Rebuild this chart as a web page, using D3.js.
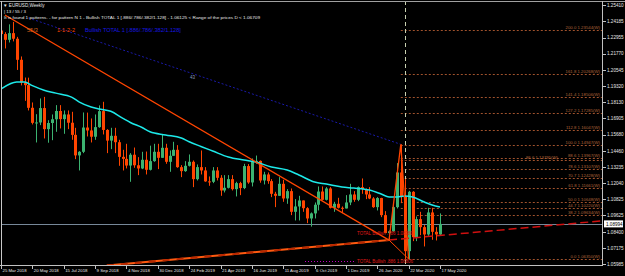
<!DOCTYPE html>
<html>
<head>
<meta charset="utf-8">
<script src="https://cdn.jsdelivr.net/npm/d3@7"></script>
<style>
html, body { margin: 0; padding: 0; background: #000; }
svg { display: block; font-family: "Liberation Sans", Arial, sans-serif; }
</style>
</head>
<body>
<div class="chart"></div>
<script>
// DATA ------
const weeks = ["2018-03-25","2018-04-01","2018-04-08","2018-04-15","2018-04-22","2018-04-29","2018-05-06","2018-05-13","2018-05-20","2018-05-27",
  "2018-06-03","2018-06-10","2018-06-17","2018-06-24","2018-07-01","2018-07-08","2018-07-15","2018-07-22","2018-07-29","2018-08-05",
  "2018-08-12","2018-08-19","2018-08-26","2018-09-02","2018-09-09","2018-09-16","2018-09-23","2018-09-30","2018-10-07","2018-10-14",
  "2018-10-21","2018-10-28","2018-11-04","2018-11-11","2018-11-18","2018-11-25","2018-12-02","2018-12-09","2018-12-16","2018-12-23",
  "2018-12-30","2019-01-06","2019-01-13","2019-01-20","2019-01-27","2019-02-03","2019-02-10","2019-02-17","2019-02-24","2019-03-03",
  "2019-03-10","2019-03-17","2019-03-24","2019-03-31","2019-04-07","2019-04-14","2019-04-21","2019-04-28","2019-05-05","2019-05-12",
  "2019-05-19","2019-05-26","2019-06-02","2019-06-09","2019-06-16","2019-06-23","2019-06-30","2019-07-07","2019-07-14","2019-07-21",
  "2019-07-28","2019-08-04","2019-08-11","2019-08-18","2019-08-25","2019-09-01","2019-09-08","2019-09-15","2019-09-22","2019-09-29",
  "2019-10-06","2019-10-13","2019-10-20","2019-10-27","2019-11-03","2019-11-10","2019-11-17","2019-11-24","2019-12-01","2019-12-08",
  "2019-12-15","2019-12-22","2019-12-29","2020-01-05","2020-01-12","2020-01-19","2020-01-26","2020-02-02","2020-02-09","2020-02-16",
  "2020-02-23","2020-03-01","2020-03-08","2020-03-15","2020-03-22","2020-03-29","2020-04-05","2020-04-12","2020-04-19","2020-04-26",
  "2020-05-03","2020-05-10","2020-05-17"];
const opens = [1.2350,1.2323,1.2280,1.2330,1.2288,1.2130,1.1960,1.1940,1.1770,1.1657,
  1.1660,1.1768,1.1610,1.1656,1.1684,1.1746,1.1685,1.1720,1.1658,1.1567,
  1.1413,1.1440,1.1622,1.1600,1.1553,1.1625,1.1745,1.1604,1.1524,1.1560,
  1.1512,1.1402,1.1387,1.1337,1.1418,1.1339,1.1315,1.1380,1.1305,1.1370,
  1.1440,1.1395,1.1470,1.1365,1.1410,1.1455,1.1325,1.1295,1.1335,1.1365,
  1.1235,1.1325,1.1300,1.1218,1.1215,1.1300,1.1245,1.1150,1.1170,1.1235,
  1.1160,1.1205,1.1168,1.1333,1.1210,1.1370,1.1372,1.1225,1.1270,1.1220,
  1.1125,1.1110,1.1200,1.1090,1.1145,1.0990,1.1030,1.1075,1.1017,1.0940,
  1.0978,1.1043,1.1142,1.1080,1.1165,1.1020,1.1050,1.1020,1.1015,1.1060,
  1.1120,1.1080,1.1175,1.1160,1.1120,1.1090,1.1025,1.1093,1.0965,1.0830,
  1.0845,1.1025,1.1285,1.1105,1.0695,1.1140,1.0800,1.0935,1.0875,1.0820,
  1.0985,1.0840,1.0820];
const highs = [1.2476,1.2337,1.2396,1.2414,1.2302,1.2155,1.1997,1.1996,1.1810,1.1722,
  1.1840,1.1852,1.1677,1.1720,1.1790,1.1790,1.1750,1.1750,1.1740,1.1620,
  1.1445,1.1735,1.1734,1.1690,1.1720,1.1788,1.1815,1.1610,1.1620,1.1620,
  1.1530,1.1455,1.1500,1.1430,1.1472,1.1400,1.1440,1.1442,1.1486,1.1500,
  1.1500,1.1570,1.1500,1.1450,1.1515,1.1490,1.1340,1.1370,1.1420,1.1375,
  1.1345,1.1450,1.1325,1.1255,1.1325,1.1325,1.1265,1.1265,1.1265,1.1265,
  1.1215,1.1215,1.1350,1.1348,1.1390,1.1412,1.1375,1.1290,1.1285,1.1235,
  1.1140,1.1250,1.1230,1.1160,1.1165,1.1085,1.1110,1.1075,1.1025,1.0985,
  1.1060,1.1180,1.1180,1.1175,1.1175,1.1065,1.1095,1.1030,1.1115,1.1200,
  1.1145,1.1180,1.1240,1.1165,1.1175,1.1100,1.1100,1.1095,1.0995,1.0850,
  1.1055,1.1355,1.1496,1.1236,1.1147,1.1145,1.0955,1.0990,1.0890,1.1020,
  1.1020,1.0875,1.0978];
const lows = [1.2282,1.2215,1.2260,1.2268,1.2054,1.1938,1.1822,1.1750,1.1645,1.1510,
  1.1640,1.1540,1.1508,1.1527,1.1590,1.1615,1.1575,1.1610,1.1530,1.1385,
  1.1300,1.1430,1.1555,1.1510,1.1530,1.1620,1.1570,1.1430,1.1460,1.1430,
  1.1335,1.1300,1.1315,1.1215,1.1320,1.1265,1.1310,1.1270,1.1300,1.1365,
  1.1310,1.1395,1.1350,1.1290,1.1410,1.1320,1.1250,1.1290,1.1330,1.1175,
  1.1225,1.1270,1.1215,1.1185,1.1205,1.1225,1.1110,1.1135,1.1165,1.1150,
  1.1105,1.1115,1.1160,1.1200,1.1180,1.1350,1.1208,1.1195,1.1200,1.1100,
  1.1025,1.1110,1.1065,1.1050,1.0965,1.0925,1.0925,1.0990,1.0905,1.0879,
  1.0940,1.1000,1.1075,1.1075,1.1015,1.0990,1.1015,1.0980,1.1015,1.1040,
  1.1065,1.1070,1.1125,1.1085,1.1085,1.1020,1.1000,1.0950,1.0830,1.0778,
  1.0840,1.1015,1.1055,1.0636,1.0636,1.0770,1.0770,1.0815,1.0730,1.0810,
  1.0780,1.0775,1.0815];
const closes = [1.2323,1.2280,1.2330,1.2288,1.2130,1.1960,1.1940,1.1770,1.1657,1.1660,
  1.1768,1.1610,1.1656,1.1684,1.1746,1.1685,1.1720,1.1658,1.1567,1.1413,
  1.1440,1.1622,1.1600,1.1553,1.1625,1.1745,1.1604,1.1524,1.1560,1.1512,
  1.1402,1.1387,1.1337,1.1418,1.1339,1.1315,1.1380,1.1305,1.1370,1.1440,
  1.1395,1.1470,1.1365,1.1410,1.1455,1.1325,1.1295,1.1335,1.1365,1.1235,
  1.1325,1.1300,1.1218,1.1215,1.1300,1.1245,1.1150,1.1170,1.1235,1.1160,
  1.1205,1.1168,1.1333,1.1210,1.1370,1.1372,1.1225,1.1270,1.1220,1.1125,
  1.1110,1.1200,1.1090,1.1145,1.0990,1.1030,1.1075,1.1017,1.0940,1.0978,
  1.1043,1.1142,1.1080,1.1165,1.1020,1.1050,1.1020,1.1015,1.1060,1.1120,
  1.1080,1.1175,1.1160,1.1120,1.1090,1.1025,1.1093,1.0965,1.0830,1.0845,
  1.1025,1.1285,1.1105,1.0695,1.1140,1.0800,1.0935,1.0875,1.0820,1.0985,
  1.0840,1.0820,1.0899];

// moving average (bar index / price)
const maIdx = [0, 4, 6, 8, 11, 14, 18, 20, 23, 25, 28, 31, 33, 36, 38, 42, 46, 48, 51, 54, 58, 62, 65, 69, 73, 76, 80, 83, 87, 90, 94, 97, 99, 101, 103, 105, 108, 110, 112];
const maVal = [1.1911, 1.1964, 1.1964, 1.1936, 1.1902, 1.1880, 1.1850, 1.1813, 1.1776, 1.1761, 1.1744, 1.1693, 1.1660, 1.1622, 1.1590, 1.1566, 1.1543, 1.1515, 1.1480, 1.1446, 1.1401, 1.1378, 1.1363, 1.1326, 1.1303, 1.1266, 1.1213, 1.1198, 1.1176, 1.1168, 1.1153, 1.1123, 1.1101, 1.1101, 1.1108, 1.1101, 1.1063, 1.1041, 1.1026];

const priceTicks = [1.25410, 1.24185, 1.22955, 1.21770, 1.20545, 1.19320, 1.18130, 1.16905, 1.15680, 1.14460, 1.13235, 1.12040, 1.10825, 1.09625, 1.08400, 1.07175, 1.05985];
const timeTickIdx = [0, 8, 16, 24, 32, 40, 48, 56, 64, 72, 80, 88, 96, 104, 112];
const timeTickLabels = ["25 Mar 2018", "20 May 2018", "15 Jul 2018", "9 Sep 2018", "4 Nov 2018", "30 Dec 2018", "24 Feb 2019", "21 Apr 2019", "16 Jun 2019", "11 Aug 2019", "6 Oct 2019", "1 Dec 2019", "26 Jan 2020", "22 Mar 2020", "17 May 2020"];

const fibLevels = ["0.0", "38.2", "44.7", "50.0", "61.8", "70.7", "78.6", "86.6", "88.6", "100.0", "112.8", "127.2", "141.4", "161.8", "200.0"];
const fibPrices = [1.06350, 1.09634, 1.10220, 1.10648, 1.11661, 1.12428, 1.13107, 1.13795, 1.13967, 1.14947, 1.16047, 1.17285, 1.18506, 1.20268, 1.23544];

// pattern points X, A, B, D
const patIdx = [1, 99, 102, 104];
const patPrice = [1.2466, 1.0778, 1.1496, 1.0636];
const supIdx = [27, 99, 153];
const supPrice = [1.0587, 1.0778, 1.0921];
const blueIdx = [7, 102];
const bluePrice = [1.2444, 1.1496];
const markerIdx = 103;
const lastPrice = 1.08994;

//Chart INIT------
const W = 625, H = 276;
const plot = {left: 2, right: 602, top: 1, bottom: 265};

const svg = d3.select('.chart')
  .append('svg')
  .attr('width', W)
  .attr('height', H)
  .style('background', '#000');

const x = d3.scaleLinear().domain([0, 112]).range([1, 440]);
const y = d3.scaleLinear().domain([1.05985, 1.25410]).range([264, 5]);

svg.append('clipPath').attr('id', 'clip')
  .append('rect')
  .attr('x', plot.left).attr('y', plot.top + 1)
  .attr('width', plot.right - plot.left).attr('height', plot.bottom - plot.top - 1);

const g = svg.append('g').attr('clip-path', 'url(#clip)');

// fib levels
g.selectAll('.fib')
  .data(fibPrices)
  .enter().append('line')
  .attr('class', 'fib')
  .attr('x1', x(102)).attr('x2', plot.right)
  .attr('y1', d => Math.round(y(d)) + 0.5).attr('y2', d => Math.round(y(d)) + 0.5)
  .attr('stroke', '#a0522d')
  .attr('stroke-dasharray', '2,2');

// the 86.6 label sits just left of the 88.6 one so the two don't collide
g.selectAll('.fib-label')
  .data(fibPrices)
  .enter().append('text')
  .attr('class', 'fib-label')
  .attr('x', (d, i) => fibLevels[i] === "86.6" ? plot.right - 44 : plot.right - 2)
  .attr('y', d => Math.round(y(d)) - 1)
  .attr('text-anchor', 'end')
  .attr('font-size', 4.3)
  .attr('fill', '#b0643a')
  .text((d, i) => fibLevels[i] + "   " + d.toFixed(5) + "(W)");

// last price line
g.append('line')
  .attr('x1', plot.left).attr('x2', plot.right)
  .attr('y1', Math.round(y(lastPrice)) + 0.5).attr('y2', Math.round(y(lastPrice)) + 0.5)
  .attr('stroke', '#778899');

// vertical marker
g.append('line')
  .attr('x1', Math.round(x(markerIdx)) + 0.5).attr('x2', Math.round(x(markerIdx)) + 0.5)
  .attr('y1', plot.top).attr('y2', plot.bottom)
  .attr('stroke', '#c8d0b0')
  .attr('stroke-dasharray', '4,3');

// candles
const bars = d3.range(weeks.length);
g.selectAll('.wick')
  .data(bars)
  .enter().append('line')
  .attr('class', 'wick')
  .attr('x1', i => Math.round(x(i)) + 0.5).attr('x2', i => Math.round(x(i)) + 0.5)
  .attr('y1', i => y(highs[i])).attr('y2', i => y(lows[i]))
  .attr('stroke', i => closes[i] >= opens[i] ? '#3cb371' : '#ff4500');

g.selectAll('.body')
  .data(bars)
  .enter().append('rect')
  .attr('class', 'body')
  .attr('x', i => Math.round(x(i)) - 1)
  .attr('width', 3)
  .attr('y', i => y(Math.max(opens[i], closes[i])))
  .attr('height', i => Math.max(1, Math.abs(y(opens[i]) - y(closes[i]))))
  .attr('fill', i => closes[i] >= opens[i] ? '#3cb371' : '#ff4500');

// moving average
const maLine = d3.line().x(d => x(d[0])).y(d => y(d[1])).curve(d3.curveMonotoneX);
g.append('path')
  .datum(maIdx.map((d, i) => [d, maVal[i]]))
  .attr('d', maLine)
  .attr('fill', 'none')
  .attr('stroke', '#1de9e9')
  .attr('stroke-width', 1.5);

// pattern lines
const pl = d3.line().x(d => x(d[0])).y(d => y(d[1]));
const pt = patIdx.map((d, i) => [d, patPrice[i]]);

g.append('path')
  .datum(blueIdx.map((d, i) => [d, bluePrice[i]]))
  .attr('d', pl).attr('fill', 'none')
  .attr('stroke', '#1a1aa8').attr('stroke-dasharray', '2,2');

g.append('path')
  .datum([[supIdx[1], supPrice[1]], [supIdx[2], supPrice[2]]])
  .attr('d', pl).attr('fill', 'none')
  .attr('stroke', '#d01010').attr('stroke-width', 1.5)
  .attr('stroke-dasharray', '8,4');

g.append('path')
  .datum([[supIdx[0], supPrice[0]], [supIdx[1], supPrice[1]]])
  .attr('d', pl).attr('fill', 'none')
  .attr('stroke', '#ff5a10').attr('stroke-width', 2);

g.append('path')
  .datum([[supIdx[0], supPrice[0]], [supIdx[1], supPrice[1]]])
  .attr('d', pl).attr('fill', 'none')
  .attr('stroke', '#b82800').attr('stroke-width', 2)
  .attr('stroke-dasharray', '7,7');

g.append('path')
  .datum([pt[0], pt[1], pt[2], pt[3]])
  .attr('d', pl).attr('fill', 'none')
  .attr('stroke', '#ff4500').attr('stroke-width', 1.3);

g.append('path')
  .datum([pt[1], pt[3]])
  .attr('d', pl).attr('fill', 'none')
  .attr('stroke', '#ff4500').attr('stroke-width', 1);

// pattern labels
g.append('text').attr('x', 190).attr('y', 79)
  .attr('font-size', 4.5).attr('fill', '#8898b8').text('43');
g.append('text').attr('x', 357).attr('y', 235)
  .attr('font-size', 4.5).attr('fill', '#e01818').text('TOTAL Bullish .786   1.08380');
g.append('text').attr('x', 357).attr('y', 263)
  .attr('font-size', 4.5).attr('fill', '#e01818').text('TOTAL Bullish .886  1.06806');
g.append('line')
  .attr('x1', 305).attr('x2', 356).attr('y1', 261.5).attr('y2', 261.5)
  .attr('stroke', '#c000c0').attr('stroke-dasharray', '1,2');

// frame
svg.append('line').attr('x1', 0).attr('x2', W).attr('y1', 1.5).attr('y2', 1.5).attr('stroke', '#a0a0a0');
svg.append('line').attr('x1', 1.5).attr('x2', 1.5).attr('y1', 1).attr('y2', plot.bottom).attr('stroke', '#c8c8c8');
svg.append('line').attr('x1', plot.right + 0.5).attr('x2', plot.right + 0.5).attr('y1', 1).attr('y2', plot.bottom + 1).attr('stroke', '#c0c0c0');
svg.append('line').attr('x1', 0).attr('x2', plot.right + 1).attr('y1', plot.bottom + 0.5).attr('y2', plot.bottom + 0.5).attr('stroke', '#c0c0c0');

// price axis
const pAxis = svg.append('g').attr('class', 'axis y-axis');
pAxis.selectAll('line')
  .data(priceTicks)
  .enter().append('line')
  .attr('x1', plot.right + 1).attr('x2', plot.right + 4)
  .attr('y1', d => Math.round(y(d)) + 0.5).attr('y2', d => Math.round(y(d)) + 0.5)
  .attr('stroke', '#c0c0c0');
pAxis.selectAll('text')
  .data(priceTicks)
  .enter().append('text')
  .attr('x', plot.right + 5)
  .attr('y', d => y(d) + 1.7)
  .attr('font-size', 4.6)
  .attr('fill', '#e8e8e8')
  .text(d => d.toFixed(5));

pAxis.append('rect')
  .attr('x', plot.right + 2).attr('y', y(lastPrice) - 3.5)
  .attr('width', 19).attr('height', 7)
  .attr('fill', '#ffffff');
pAxis.append('text')
  .attr('x', plot.right + 4).attr('y', y(lastPrice) + 1.7)
  .attr('font-size', 4.6).attr('fill', '#000')
  .text(lastPrice.toFixed(5));

// time axis
const tAxis = svg.append('g').attr('class', 'axis x-axis');
tAxis.selectAll('line')
  .data(timeTickIdx)
  .enter().append('line')
  .attr('x1', i => Math.round(x(i)) + 0.5).attr('x2', i => Math.round(x(i)) + 0.5)
  .attr('y1', plot.bottom).attr('y2', plot.bottom + 4)
  .attr('stroke', '#c0c0c0');
tAxis.selectAll('text')
  .data(timeTickIdx)
  .enter().append('text')
  .attr('x', i => x(i) + 1.5)
  .attr('y', plot.bottom + 6.5)
  .attr('font-size', 4.3)
  .attr('fill', '#e8e8e8')
  .text((d, i) => timeTickLabels[i]);

// header texts
svg.append('text').attr('x', 3).attr('y', 7).attr('font-size', 4.6).attr('fill', '#e8e8e8').text('\u25BC EURUSD,Weekly');
svg.append('text').attr('x', 4).attr('y', 12.5).attr('font-size', 4.4).attr('fill', '#e8e8e8').text('| 13 / 55 / 3');
svg.append('text').attr('x', 4).attr('y', 18.5).attr('font-size', 4.4).attr('fill', '#e8e8e8')
  .attr('textLength', 256).attr('lengthAdjust', 'spacingAndGlyphs')
  .text('It is found 1 patterns.  -  for pattern N 1 - Bullish TOTAL 1 [.886/.786/.382/1.128] - 1.06125 < Range of the prices D < 1.06709');
svg.append('text').attr('x', 27).attr('y', 31.5).attr('font-size', 5.6).attr('fill', '#d2601e').text('55/3');
svg.append('text').attr('x', 57).attr('y', 31.5).attr('font-size', 5.6).attr('fill', '#ff4500').text('1-1-2-2');
svg.append('text').attr('x', 85).attr('y', 31.5).attr('font-size', 5.6).attr('fill', '#1818e0').text('Bullish TOTAL 1 [.886/.786/.382/1.128]');
</script>
</body>
</html>
